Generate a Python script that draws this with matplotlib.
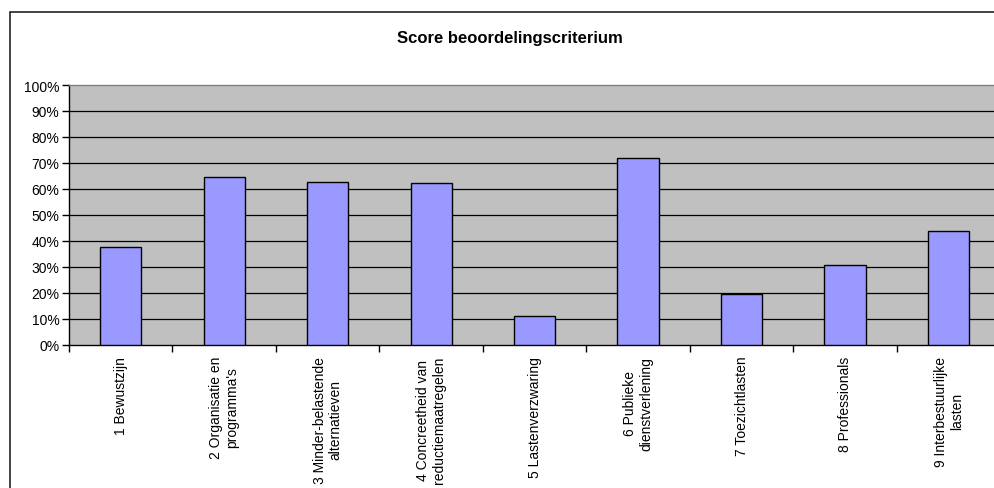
import matplotlib.pyplot as plt
from matplotlib.patches import Rectangle
from matplotlib.ticker import FuncFormatter

plt.rcParams['font.family'] = ['Liberation Sans', 'DejaVu Sans']

categories = [
    "1 Bewustzijn",
    "2 Organisatie en\nprogramma's",
    "3 Minder-belastende\nalternatieven",
    "4 Concreetheid van\nreductiemaatregelen",
    "5 Lastenverzwaring",
    "6 Publieke\ndienstverlening",
    "7 Toezichtlasten",
    "8 Professionals",
    "9 Interbestuurlijke\nlasten",
]
scores = [0.377, 0.646, 0.628, 0.624, 0.109, 0.720, 0.194, 0.306, 0.437]
y_ticks = [0.0, 0.1, 0.2, 0.3, 0.4, 0.5, 0.6, 0.7, 0.8, 0.9, 1.0]

fig = plt.figure(figsize=(9.95, 4.89), dpi=100)
fig.patch.set_facecolor('white')

# outer chart border (Excel style)
fig.patches.append(Rectangle((9.5 / 995, -0.05), 1.2, 0.05 + 1 - 13 / 489,
                             transform=fig.transFigure, fill=False,
                             edgecolor='#222222', linewidth=1.2))

ax = fig.add_axes([69 / 995, 1 - 345.7 / 489, 931.4 / 995, (345.7 - 86) / 489])
ax.set_facecolor('#C0C0C0')

x = list(range(1, len(scores) + 1))
ax.bar(x, scores, width=0.4, color='#9999FF', edgecolor='black', linewidth=1, zorder=3)

ax.set_xlim(0.5, len(scores) + 0.5)
ax.set_ylim(0, 1)
ax.set_yticks(y_ticks)
ax.yaxis.set_major_formatter(FuncFormatter(lambda v, p: f"{v * 100:.0f}%"))
for v in y_ticks[1:-1]:
    ax.axhline(v, color='black', linewidth=0.9, zorder=1)

ax.set_xticks([i + 0.5 for i in range(0, len(scores) + 1)])
ax.set_xticklabels([])
ax.set_xticks(x, minor=True)
ax.set_xticklabels(categories, minor=True, rotation=90, va='top', ha='center',
                   multialignment='center', fontsize=10)
ax.tick_params(axis='x', which='minor', length=0, pad=8)
ax.tick_params(axis='x', which='major', length=5, width=1, direction='out')
ax.tick_params(axis='y', length=5, width=1, direction='out', labelsize=10, pad=2)

ax.spines['left'].set_color('black')
ax.spines['bottom'].set_color('black')
ax.spines['top'].set_color('#808080')
ax.spines['right'].set_color('#808080')
for s in ax.spines.values():
    s.set_linewidth(1)

fig.text(510 / 995, 1 - 39 / 489, "Score beoordelingscriterium", ha='center', va='center',
         fontsize=12, fontweight='bold')

fig.savefig('out.png', dpi=100)
